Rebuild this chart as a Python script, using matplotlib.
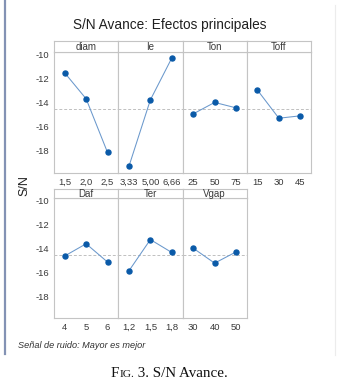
import matplotlib
matplotlib.use("Agg")
import matplotlib.pyplot as plt
from matplotlib.lines import Line2D

plt.rcParams['font.family'] = ['Liberation Sans', 'DejaVu Sans']

# factors and levels
factors_top = ['diam', 'Ie', 'Ton', 'Toff']
levels_top = [['1,5', '2,0', '2,5'], ['3,33', '5,00', '6,66'], ['25', '50', '75'], ['15', '30', '45']]
sn_top = [[-11.53, -13.68, -18.13], [-19.27, -13.77, -10.30],
          [-14.93, -13.98, -14.43], [-12.96, -15.29, -15.09]]

factors_bot = ['Daf', 'Ter', 'Vgap']
levels_bot = [['4', '5', '6'], ['1,2', '1,5', '1,8'], ['30', '40', '50']]
sn_bot = [[-14.62, -13.60, -15.13], [-15.86, -13.25, -14.33], [-13.97, -15.22, -14.28]]

sn_mean = -14.5
yticks = [-10, -12, -14, -16, -18]

W, H = 341, 385
fig = plt.figure(figsize=(W / 100, H / 100), dpi=100)

def box(x0, y0, x1, y1):
    return [x0 / W, 1 - y1 / H, (x1 - x0) / W, (y1 - y0) / H]

edge = '#c4c4c4'
tcol = '#3a3a3a'
panel_w = 64.25
x_left = 54

def draw_row(factors, levels, values, y_strip, y_top, y_bot):
    for i, (name, labs, vals) in enumerate(zip(factors, levels, values)):
        x0 = x_left + i * panel_w
        x1 = x0 + panel_w
        ax = fig.add_axes(box(x0, y_top, x1, y_bot))
        xs = range(len(vals))
        ax.axhline(sn_mean, color='#c0c0c0', lw=0.7, ls=(0, (3, 2)), zorder=1)
        ax.plot(xs, vals, color='#6a98cc', lw=0.75, zorder=2)
        ax.plot(xs, vals, 'o', color='#0a5aa8', ms=3.6, zorder=3)
        ax.set_xlim(-0.5, len(vals) - 0.5)
        ax.set_ylim(-19.83, -9.8)
        ax.set_xticks(list(xs))
        ax.set_xticklabels(labs)
        ax.set_yticks(yticks)
        if i == 0:
            ax.set_yticklabels([str(t) for t in yticks])
        else:
            ax.set_yticklabels([])
        ax.tick_params(labelsize=6.8, colors=tcol, length=0, pad=3.5)
        for s in ax.spines.values():
            s.set_color(edge)
            s.set_linewidth(0.8)
        # strip header
        sx = fig.add_axes(box(x0, y_strip, x1, y_top))
        sx.set_xticks([])
        sx.set_yticks([])
        for s in sx.spines.values():
            s.set_color(edge)
            s.set_linewidth(0.8)
        sx.text(0.5, 0.45, name, ha='center', va='center', fontsize=7, color=tcol,
                transform=sx.transAxes)

draw_row(factors_top, levels_top, sn_top, 41, 52, 173)
draw_row(factors_bot, levels_bot, sn_bot, 189, 198.3, 318.3)

fig.text(170 / W, 1 - 25 / H, 'S/N Avance: Efectos principales', ha='center', va='center',
         fontsize=9.8, color='#202020')
fig.text(24 / W, 1 - 186 / H, 'S/N', rotation=90, ha='center', va='center',
         fontsize=9, color='#202020')
fig.text(18 / W, 1 - 345 / H, 'Señal de ruido: Mayor es mejor', ha='left', va='center',
         fontsize=6.6, style='italic', color='#303030')

# page decorations
fig.add_artist(Line2D([5 / W, 5 / W], [1, 1 - 354 / H], color='#8392b4', lw=1.6))
fig.add_artist(Line2D([335 / W, 335 / W], [1 - 5 / H, 1 - 355 / H], color='#ececec', lw=0.8))

# caption with small caps "FIG."
renderer = fig.canvas.get_renderer()
parts = [('F', 10.8), ('IG.', 8.2), (' 3. S/N Avance.', 10.8)]
x = 111
for txt, size in parts:
    t = fig.text(x / W, 1 - 377 / H, txt, ha='left', va='baseline', fontsize=size,
                 family='Liberation Serif', color='#111111')
    x += t.get_window_extent(renderer).width

fig.savefig('out.png', dpi=100)
